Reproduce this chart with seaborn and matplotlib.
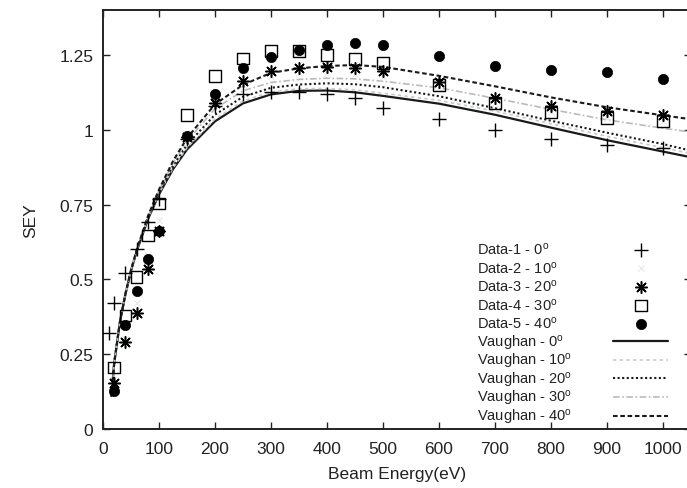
import matplotlib
matplotlib.use("Agg")
import matplotlib.pyplot as plt
from matplotlib.transforms import Bbox
import seaborn as sns

energy_d1 = [10, 20, 40, 60, 80, 100, 150, 200, 250, 300, 350, 400, 450, 500, 600, 700, 800, 900, 1000]
sey_d1 = [0.32, 0.42, 0.52, 0.60, 0.69, 0.77, 0.97, 1.08, 1.12, 1.125, 1.127, 1.118, 1.107, 1.073, 1.037, 1.0, 0.968, 0.948, 0.94]

energy_d = [20, 40, 60, 80, 100, 150, 200, 250, 300, 350, 400, 450, 500, 600, 700, 800, 900, 1000]
sey_d2 = [0.14, 0.30, 0.42, 0.58, 0.70, 0.97, 1.09, 1.15, 1.18, 1.19, 1.19, 1.185, 1.175, 1.14, 1.09, 1.06, 1.04, 1.03]
sey_d3 = [0.155, 0.29, 0.386, 0.535, 0.66, 0.975, 1.09, 1.163, 1.195, 1.205, 1.21, 1.205, 1.195, 1.16, 1.105, 1.08, 1.063, 1.05]
sey_d4 = [0.206, 0.379, 0.508, 0.647, 0.753, 1.05, 1.18, 1.238, 1.264, 1.262, 1.25, 1.236, 1.222, 1.15, 1.09, 1.058, 1.04, 1.03]
sey_d5 = [0.127, 0.349, 0.46, 0.569, 0.66, 0.98, 1.121, 1.205, 1.244, 1.268, 1.283, 1.289, 1.283, 1.246, 1.213, 1.20, 1.192, 1.171]

# ---- Vaughan model curves ----
energy_v = [15, 20, 30, 40, 50, 60, 80, 100, 125, 150, 200, 250, 300, 350, 400, 450, 500, 600, 700, 800, 900, 1000, 1050]
vaughan_0 = [0.11, 0.22, 0.355, 0.45, 0.528, 0.593, 0.70, 0.784, 0.868, 0.934, 1.028, 1.088, 1.118, 1.13, 1.131, 1.125, 1.113, 1.087, 1.05, 1.007, 0.965, 0.927, 0.908]
vaughan_10 = [0.11, 0.22, 0.355, 0.45, 0.528, 0.594, 0.702, 0.787, 0.872, 0.94, 1.036, 1.096, 1.126, 1.137, 1.138, 1.133, 1.122, 1.098, 1.062, 1.02, 0.978, 0.94, 0.92]
vaughan_20 = [0.11, 0.22, 0.355, 0.451, 0.53, 0.596, 0.705, 0.792, 0.88, 0.95, 1.05, 1.11, 1.14, 1.151, 1.155, 1.152, 1.142, 1.112, 1.072, 1.03, 0.99, 0.952, 0.93]
vaughan_30 = [0.11, 0.22, 0.355, 0.451, 0.53, 0.597, 0.708, 0.797, 0.888, 0.962, 1.07, 1.13, 1.158, 1.168, 1.172, 1.17, 1.162, 1.14, 1.105, 1.068, 1.033, 1.005, 0.992]
vaughan_40 = [0.11, 0.22, 0.355, 0.452, 0.531, 0.598, 0.71, 0.80, 0.895, 0.972, 1.085, 1.15, 1.19, 1.205, 1.213, 1.216, 1.21, 1.18, 1.145, 1.108, 1.075, 1.048, 1.035]

data_labels = [r"Data-1 - 0$^{\mathrm{o}}$", r"Data-2 - 10$^{\mathrm{o}}$", r"Data-3 - 20$^{\mathrm{o}}$",
               r"Data-4 - 30$^{\mathrm{o}}$", r"Data-5 - 40$^{\mathrm{o}}$"]
model_labels = [r"Vaughan - 0$^{\mathrm{o}}$", r"Vaughan - 10$^{\mathrm{o}}$", r"Vaughan - 20$^{\mathrm{o}}$",
                r"Vaughan - 30$^{\mathrm{o}}$", r"Vaughan - 40$^{\mathrm{o}}$"]
x_ticks = [0, 100, 200, 300, 400, 500, 600, 700, 800, 900, 1000]
y_ticks = [0, 0.25, 0.5, 0.75, 1, 1.25]
y_tick_labels = ["0", "0.25", "0.5", "0.75", "1", "1.25"]

sns.set_theme(style="ticks")
plt.rcParams["font.family"] = ["Liberation Sans", "DejaVu Sans"]
plt.rcParams["mathtext.fontset"] = "custom"
plt.rcParams["mathtext.rm"] = "Liberation Sans"
plt.rcParams["mathtext.it"] = "Liberation Sans:italic"

W, H = 687, 489
fig = plt.figure(figsize=(W / 100, H / 100), dpi=100)
left_px, right_px, top_px, bot_px = 103, 691, 11, 430
ax = fig.add_axes([left_px / W, 1 - bot_px / H, (right_px - left_px) / W, (bot_px - top_px) / H])

k = "black"
sns.scatterplot(x=energy_d1, y=sey_d1, marker="+", s=110, color=k, linewidth=1.0, ax=ax, label=data_labels[0], zorder=3)
sns.scatterplot(x=energy_d, y=sey_d2, marker="x", s=20, color="#e6e8e8", linewidth=0.8, ax=ax, label=data_labels[1], zorder=3)
sns.scatterplot(x=energy_d, y=sey_d3, marker=(8, 2, 0), s=70, color=k, linewidth=1.1, ax=ax, label=data_labels[2], zorder=3)
sns.scatterplot(x=energy_d, y=sey_d4, marker="s", s=70, facecolors="none", edgecolors=k, linewidth=1.0, ax=ax, label=data_labels[3], zorder=3)
sns.scatterplot(x=energy_d, y=sey_d5, marker="o", s=55, color=k, edgecolor=k, linewidth=0.5, ax=ax, label=data_labels[4], zorder=3)

sns.lineplot(x=energy_v, y=vaughan_0, color="#1a1a1a", linewidth=1.6, ax=ax, label=model_labels[0])
sns.lineplot(x=energy_v, y=vaughan_10, color="#c6caca", linewidth=1.2, linestyle=(0, (2, 2)), ax=ax, label=model_labels[1])
sns.lineplot(x=energy_v, y=vaughan_20, color="#1a1a1a", linewidth=1.5, linestyle=(0, (1, 1.2)), ax=ax, label=model_labels[2])
sns.lineplot(x=energy_v, y=vaughan_30, color="#b4bcbc", linewidth=1.2, linestyle=(0, (4, 1.5, 1, 1.5)), ax=ax, label=model_labels[3])
sns.lineplot(x=energy_v, y=vaughan_40, color="#1a1a1a", linewidth=1.5, linestyle=(0, (2.2, 1.3)), ax=ax, label=model_labels[4])

ax.set_xlim(0, 1050)
ax.set_ylim(0, 1.4)
ax.set_xticks(x_ticks)
ax.set_xticklabels([str(t) for t in x_ticks])
ax.set_yticks(y_ticks)
ax.set_yticklabels(y_tick_labels)
ax.tick_params(direction="in", length=5, width=1, top=True, right=True, labelsize=12.5, colors="#222222", pad=7)
ax.tick_params(axis="x", pad=8.5)
for sp in ax.spines.values():
    sp.set_visible(True)
    sp.set_linewidth(1.4)
    sp.set_color("#222222")

ax.set_xlabel("Beam Energy(eV)", fontsize=12.5, color="#222222", labelpad=7)
ax.set_ylabel("SEY", fontsize=12.5, color="#222222", labelpad=15)

handles, labels = ax.get_legend_handles_labels()
leg = ax.legend(handles, labels, loc="upper left", bbox_to_anchor=(477 / W, 1 - 241 / H),
                bbox_transform=fig.transFigure, frameon=False, markerfirst=False,
                fontsize=10.5, handlelength=3.8, handletextpad=2.8, labelspacing=-0.03,
                borderpad=0, borderaxespad=0)
for t in leg.get_texts():
    t.set_color("#222222")

# left-align the label texts and give every row the same height
fig.canvas.draw()
renderer = fig.canvas.get_renderer()
dpicor = renderer.points_to_pixels(1.0)
for col in leg._legend_handle_box.get_children():
    rows = col.get_children()
    tas = [row.get_children()[0] for row in rows]
    bbs = [ta.get_bbox(renderer) for ta in tas]
    maxw = max(b.width for b in bbs)
    y0 = min(b.y0 for b in bbs)
    y1 = max(b.y1 for b in bbs)
    for row, ta, b in zip(rows, tas, bbs):
        row.sep = row.sep + (maxw - b.width) / dpicor
        fixed = Bbox.from_extents(b.x0, y0, b.x1, y1)
        ta.get_bbox = (lambda r, fb=fixed: fb)

fig.savefig("out.png", dpi=100)
